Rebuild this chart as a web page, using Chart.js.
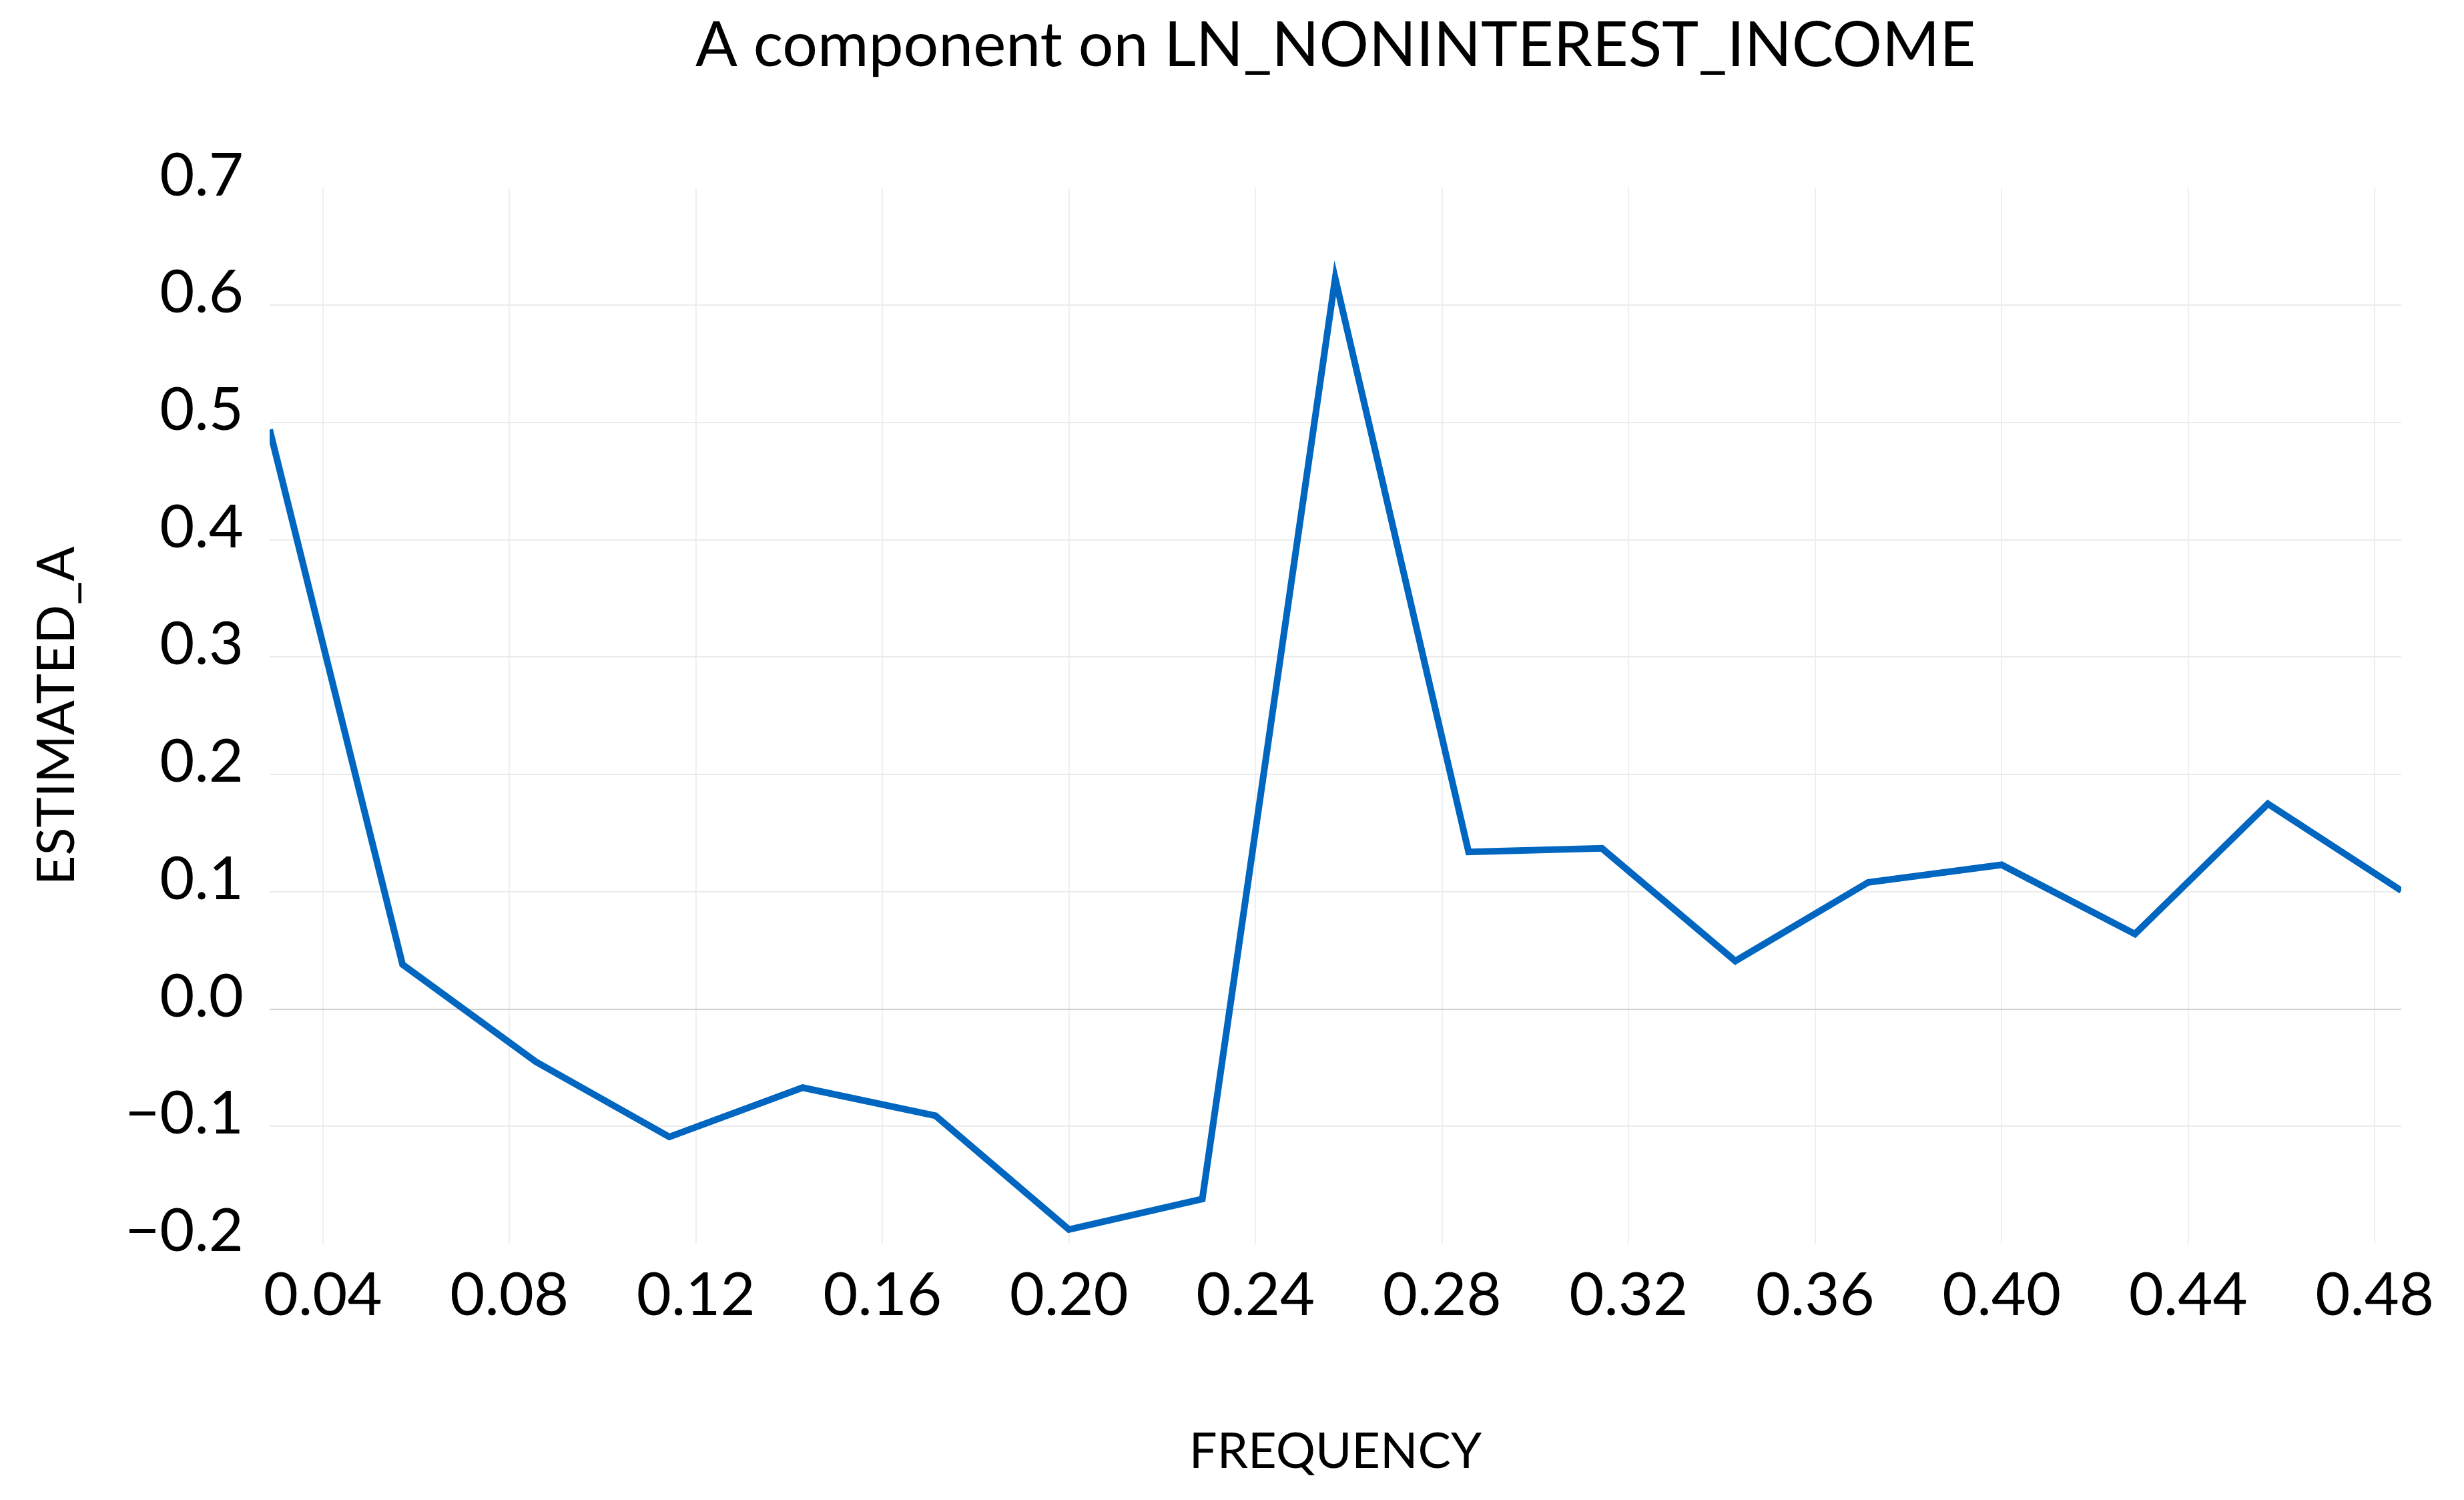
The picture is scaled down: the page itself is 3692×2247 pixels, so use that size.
<!DOCTYPE html>
<html>
<head>
<meta charset="utf-8">
<title>A component on LN_NONINTEREST_INCOME</title>
<script src="https://cdn.jsdelivr.net/npm/chart.js@4.4.1/dist/chart.umd.min.js"></script>
<style>
  html, body { margin: 0; padding: 0; background: #fff; }
  canvas { display: block; }
</style>
</head>
<body>
<canvas id="chart" width="3692" height="2247" style="width:3692px;height:2247px"></canvas>
<script>
// values
const frequency = [0.0286, 0.0571, 0.0857, 0.1143, 0.1429, 0.1714, 0.2000, 0.2286, 0.2571,
                   0.2857, 0.3143, 0.3429, 0.3714, 0.4000, 0.4286, 0.4571, 0.4857];
const estimatedA = [0.494, 0.038, -0.045, -0.109, -0.067, -0.091, -0.188, -0.162, 0.623,
                    0.134, 0.137, 0.041, 0.108, 0.123, 0.064, 0.175, 0.101];

const xTicks = [0.04, 0.08, 0.12, 0.16, 0.20, 0.24, 0.28, 0.32, 0.36, 0.40, 0.44, 0.48];
const yTicks = [-0.2, -0.1, 0.0, 0.1, 0.2, 0.3, 0.4, 0.5, 0.6, 0.7];

const FONT = 'Lato';

function yLabel(v) {
  if (Math.abs(v) < 1e-9) return '0.0';
  return v.toFixed(1).replace('-', '\u2212');
}

function yGridColor(ctx) {
  const v = ctx.tick ? ctx.tick.value : null;
  if (v === null) return 'rgba(0,0,0,0)';
  if (Math.abs(v) < 1e-9) return '#d2d2d2';
  // no line at the top and bottom of the range
  if (Math.abs(v - yTicks[0]) < 1e-9 || Math.abs(v - yTicks[yTicks.length - 1]) < 1e-9) return 'rgba(0,0,0,0)';
  return '#ebebeb';
}

const ctx = document.getElementById('chart').getContext('2d');
new Chart(ctx, {
  type: 'line',
  data: {
    datasets: [{
      label: 'ESTIMATED_A',
      data: frequency.map((f, i) => ({ x: f, y: estimatedA[i] })),
      borderColor: '#0066c0',
      borderWidth: 10,
      pointRadius: 0,
      tension: 0,
      fill: false
    }]
  },
  options: {
    responsive: false,
    devicePixelRatio: 1,
    animation: false,
    layout: { padding: { left: 0, right: 94, top: 0, bottom: 0 } },
    plugins: {
      legend: { display: false },
      tooltip: { enabled: false },
      title: {
        display: true,
        text: 'A component on LN_NONINTEREST_INCOME',
        color: '#000',
        fullSize: false,
        font: { family: FONT, size: 93, weight: 'normal' },
        padding: { top: 13, bottom: 157 }
      }
    },
    scales: {
      x: {
        type: 'linear',
        min: frequency[0],
        max: frequency[frequency.length - 1],
        afterBuildTicks: s => { s.ticks = xTicks.map(v => ({ value: v })); },
        afterFit: s => { s.height = 384; },
        border: { display: false },
        grid: { color: '#efefef', lineWidth: 2, drawTicks: false },
        ticks: {
          color: '#000',
          font: { family: FONT, size: 90 },
          padding: 24,
          maxRotation: 0,
          autoSkip: false,
          callback: v => v.toFixed(2)
        },
        title: {
          display: true,
          text: 'FREQUENCY',
          color: '#000',
          font: { family: FONT, size: 74 },
          padding: { top: 0, bottom: 27 }
        }
      },
      y: {
        min: yTicks[0],
        max: yTicks[yTicks.length - 1],
        afterBuildTicks: s => { s.ticks = yTicks.map(v => ({ value: v })); },
        afterFit: s => { s.width = 404; },
        border: { display: false },
        grid: { color: yGridColor, lineWidth: 2, drawTicks: false },
        ticks: {
          color: '#000',
          font: { family: FONT, size: 90 },
          padding: 39,
          labelOffset: -18,
          callback: v => yLabel(v)
        },
        title: {
          display: true,
          text: 'ESTIMATED_A',
          color: '#000',
          font: { family: FONT, size: 77 },
          padding: { top: 40, bottom: 0 }
        }
      }
    }
  }
});
</script>
</body>
</html>
